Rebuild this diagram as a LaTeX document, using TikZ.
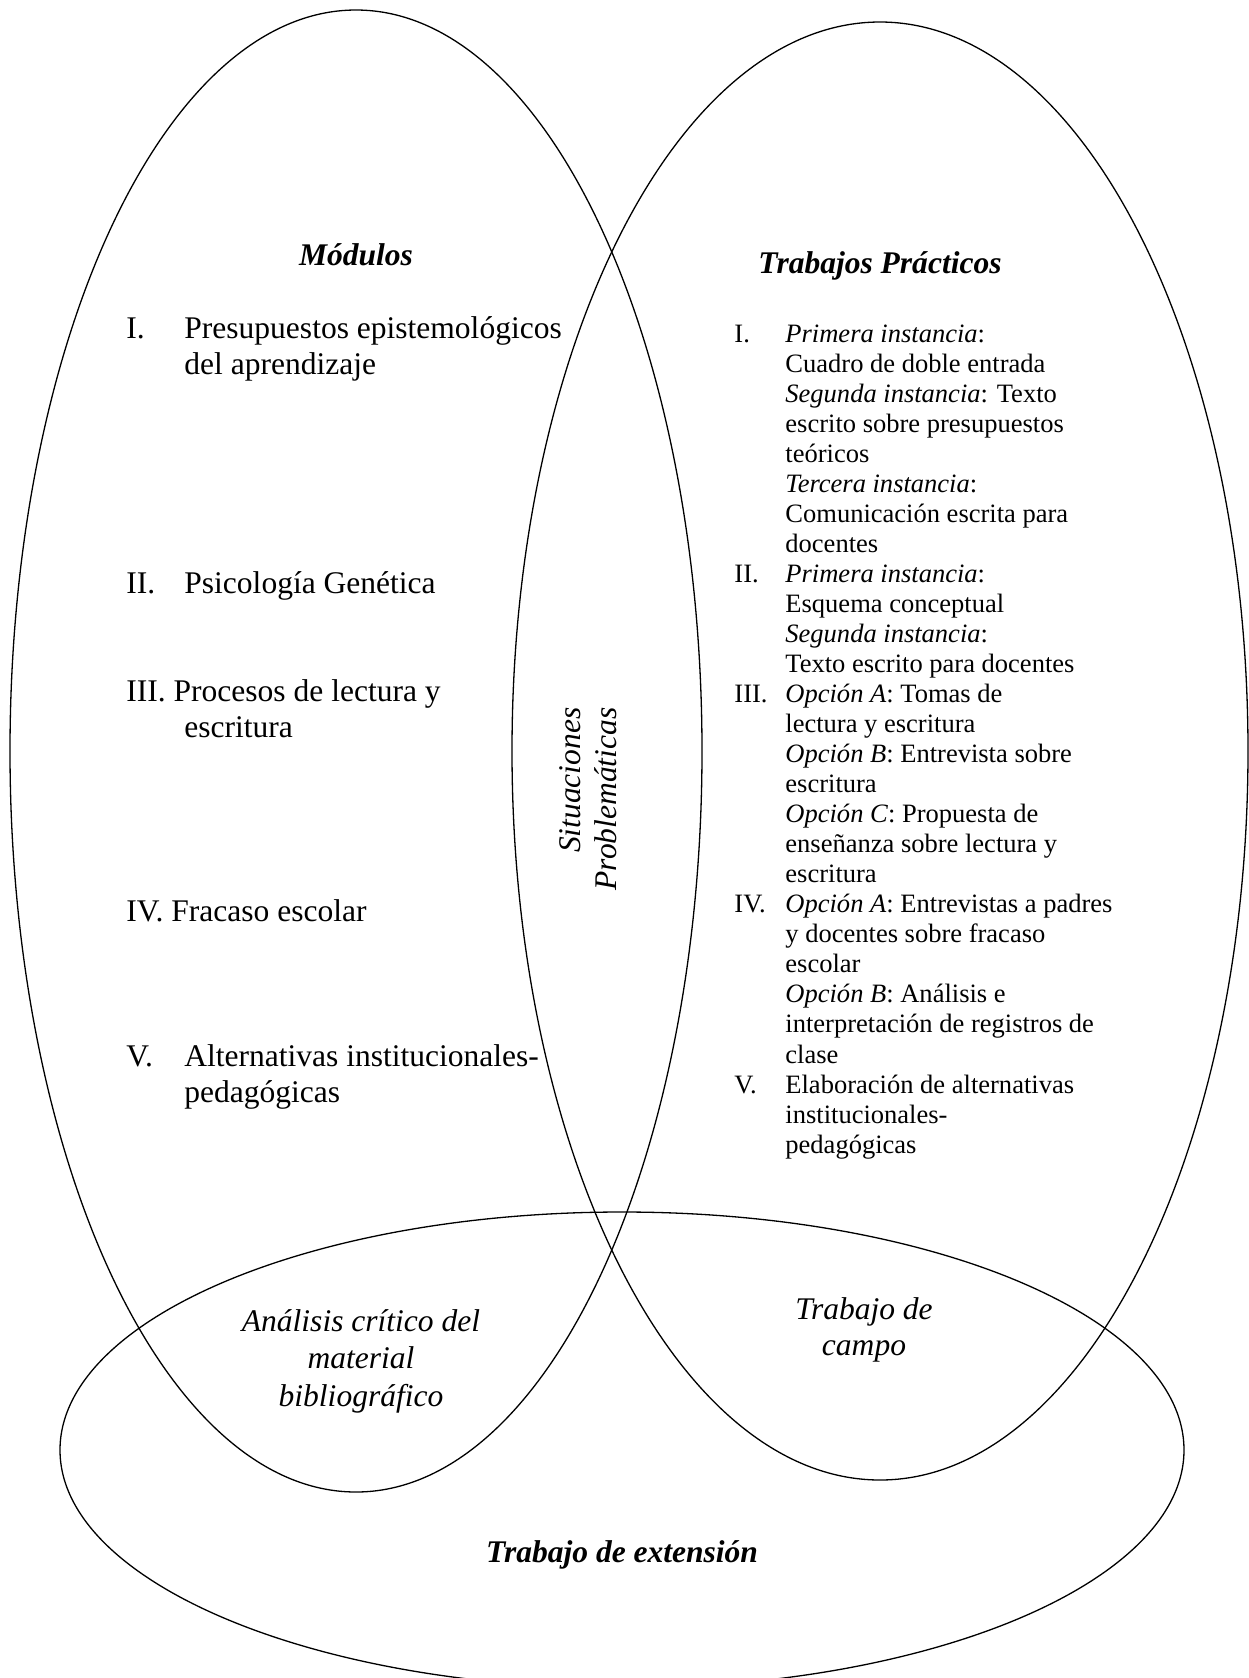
\documentclass[tikz,border=0pt]{standalone}
\usepackage{fontspec}
\setmainfont{Liberation Serif}
\usetikzlibrary{positioning}
\newlength{\pxu}
\setlength{\pxu}{0.46pt}

\tikzset{
 blob/.style={draw=black,line width=0.6pt},
 heading/.style={font=\fontsize{14.5}{16.6}\selectfont\bfseries\itshape,inner sep=0pt},
 moditem/.style={font=\fontsize{14.5}{16.6}\selectfont,anchor=base west,inner sep=0pt},
 tpitem/.style={font=\fontsize{12.2}{13.82}\selectfont,anchor=base west,inner sep=0pt},
 overlap/.style={font=\fontsize{14.5}{16.6}\selectfont\itshape,align=center,inner sep=0pt},
}
\newcommand{\moditemtext}[2]{\begin{tabular}[t]{@{}p{58\pxu}@{}l@{}}#1 & #2\end{tabular}}

\begin{document}
\begin{tikzpicture}[x=\pxu,y=-\pxu]
\useasboundingbox (0,0) rectangle (1249,1678);
\clip (0,0) rectangle (1249,1678);
% the three sets
\draw[blob] (356,751) ellipse [x radius=346\pxu, y radius=741\pxu];
\draw[blob] (880,751) ellipse [x radius=368\pxu, y radius=729\pxu];
\draw[blob] (622,1450) ellipse [x radius=562\pxu, y radius=238\pxu];

% Modulos
\node[heading] (mod) at (356,255) {Módulos};
\node[moditem] (m1) at (126,338) {\moditemtext{I.}{Presupuestos epistemológicos\\ & del aprendizaje}};
\node[moditem] (m2) at (126,593) {\moditemtext{II.}{Psicología Genética}};
\node[moditem] (m3) at (126,701) {\begin{tabular}[t]{@{}p{58\pxu}@{}l@{}}
 \multicolumn{2}{@{}l@{}}{III. Procesos de lectura y}\\ & escritura\end{tabular}};
\node[moditem] (m4) at (126,921) {IV. Fracaso escolar};
\node[moditem] (m5) at (126,1066) {\moditemtext{V.}{Alternativas institucionales-\\ & pedagógicas}};

% Trabajos practicos
\node[heading] (tp) at (880,266) {Trabajos Prácticos};
\node[tpitem] (tplist) at (734,342) {\begin{tabular}[t]{@{}p{51\pxu}@{}l@{}}
I. & \emph{Primera instancia}:\\
 & Cuadro de doble entrada\\
 & \emph{Segunda instancia}: Texto\\
 & escrito sobre presupuestos\\
 & teóricos\\
 & \emph{Tercera instancia}:\\
 & Comunicación escrita para\\
 & docentes\\
II. & \emph{Primera instancia}:\\
 & Esquema conceptual\\
 & \emph{Segunda instancia}:\\
 & Texto escrito para docentes\\
III. & \emph{Opción A}: Tomas de\\
 & lectura y escritura\\
 & \emph{Opción B}: Entrevista sobre\\
 & escritura\\
 & \emph{Opción C}: Propuesta de\\
 & enseñanza sobre lectura y\\
 & escritura\\
IV. & \emph{Opción A}: Entrevistas a padres\\
 & y docentes sobre fracaso\\
 & escolar\\
 & \emph{Opción B}: Análisis e\\
 & interpretación de registros de\\
 & clase\\
V. & Elaboración de alternativas\\
 & institucionales-\\
 & pedagógicas
\end{tabular}};

% overlaps
\node[overlap,rotate=90,align=right] (sit) at (588,799) {Situaciones\\Problemáticas};
\node[overlap,font=\fontsize{14.5}{17.2}\selectfont\itshape] (ana) at (361,1361) {Análisis crítico del\\material\\bibliográfico};
\node[overlap] (campo) at (864,1330) {Trabajo de\\campo};
\node[heading] (ext) at (622,1555) {Trabajo de extensión};
\end{tikzpicture}
\end{document}
